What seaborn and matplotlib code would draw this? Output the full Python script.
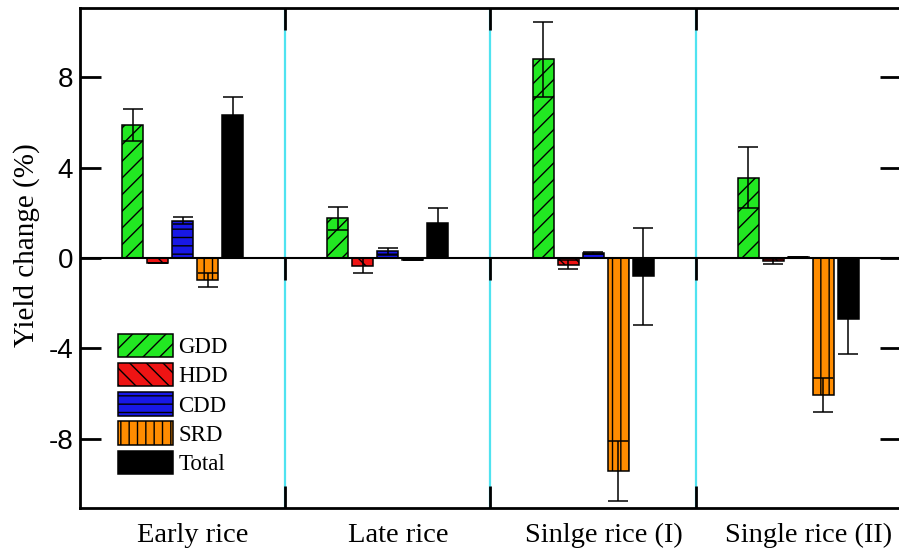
import matplotlib
matplotlib.use("Agg")
import matplotlib.pyplot as plt
from matplotlib.patches import Patch
import seaborn as sns
import pandas as pd
import numpy as np

groups = ["Early rice", "Late rice", "Sinlge rice (I)", "Single rice (II)"]
factors = ["GDD", "HDD", "CDD", "SRD", "Total"]

gdd = [5.88, 1.75, 8.80, 3.55]
hdd = [-0.20, -0.35, -0.30, -0.15]
cdd = [1.65, 0.30, 0.23, 0.05]
srd = [-0.99, -0.10, -9.42, -6.07]
total = [6.35, 1.57, -0.80, -2.72]

gdd_err = [0.72, 0.52, 1.65, 1.35]
hdd_err = [0.00, 0.33, 0.20, 0.12]
cdd_err = [0.15, 0.15, 0.05, 0.00]
srd_err = [0.31, 0.00, 1.32, 0.77]
total_err = [0.80, 0.66, 2.15, 1.55]

yticks = [-8, -4, 0, 4, 8]
ytick_labels = ["-8", "-4", "0", "4", "8"]

colors = ["#22E822", "#EE1414", "#1818E6", "#FF8C00", "#000000"]
hatches = ["//", "\\\\", "--", "||", ""]

values = [gdd, hdd, cdd, srd, total]
errors = [gdd_err, hdd_err, cdd_err, srd_err, total_err]

rows = []
for f, vals, errs in zip(factors, values, errors):
    for g, v, e in zip(groups, vals, errs):
        rows.append({"group": g, "factor": f, "value": v, "err": e})
df = pd.DataFrame(rows)

sns.set_style("ticks")
plt.rcParams["axes.unicode_minus"] = False
plt.rcParams["hatch.linewidth"] = 1.0
plt.rcParams["hatch.color"] = "black"
plt.rcParams["axes.edgecolor"] = "black"
plt.rcParams["xtick.color"] = "black"
plt.rcParams["ytick.color"] = "black"
plt.rcParams["text.color"] = "black"
plt.rcParams["axes.labelcolor"] = "black"
plt.rcParams["axes.axisbelow"] = False

fig = plt.figure(figsize=(8.99, 5.49), dpi=100)
ax = fig.add_axes([80 / 899, 1 - 508 / 549, 821 / 899, 500 / 549])

sns.barplot(data=df, x="group", y="value", hue="factor", order=groups,
            hue_order=factors, palette=colors, saturation=1, width=0.61,
            gap=0.16, errorbar=None, edgecolor="black", linewidth=1.1, ax=ax,
            legend=False, zorder=3)

for cont, hatch, errs in zip(ax.containers, hatches, errors):
    xs, ys = [], []
    for bar in cont:
        bar.set_hatch(hatch)
        xs.append(bar.get_x() + bar.get_width() / 2)
        ys.append(bar.get_y() + bar.get_height())
    ax.errorbar(xs, ys, yerr=errs, fmt="none", ecolor="black", elinewidth=1.1,
                capsize=7.5, capthick=1.1, zorder=4)

ax.axhline(0, color="black", lw=1.5, zorder=5)

seps = [0.5, 1.5, 2.5]
for s in seps:
    ax.axvline(s, color="#4FE3F0", lw=1.6, zorder=1)
ax.vlines(seps, -0.97, 0, color="black", lw=2.0, zorder=5)

ax.set_xlim(-0.5, 3.5)
ax.set_ylim(-11.07, 11.07)
ax.set_yticks(yticks)
ax.set_yticklabels(ytick_labels, fontfamily="Liberation Sans", fontsize=20)
ax.set_xticks(seps, minor=True)
label_shift = 0.05
ax.set_xticks(np.arange(len(groups)) + label_shift)
ax.set_xticklabels(groups, fontfamily="Liberation Serif", fontsize=20.5)
ax.tick_params(axis="x", which="major", length=0, pad=11)
ax.tick_params(axis="x", which="minor", direction="in", length=16, width=2,
               top=True, bottom=True, color="black")
ax.tick_params(axis="y", which="major", direction="in", length=15, width=2,
               left=True, right=True, pad=5)
for sp in ax.spines.values():
    sp.set_linewidth(2)
    sp.set_visible(True)
    sp.set_color("black")

ax.set_xlabel("")
ax.set_ylabel("Yield change (%)", fontfamily="Liberation Serif", fontsize=21,
              labelpad=4)
ax.yaxis.set_label_coords(-0.049, 0.526)

handles = [Patch(facecolor=c, edgecolor="black", hatch=h, linewidth=1.1)
           for c, h in zip(colors, hatches)]
ax.legend(handles, factors, loc="upper left", bbox_to_anchor=(0.046, 0.348),
          frameon=False, prop={"family": "Liberation Serif", "size": 16.5},
          handlelength=2.4, handleheight=1.18, labelspacing=0.21,
          handletextpad=0.25, borderpad=0, borderaxespad=0)

fig.savefig("out.png", dpi=100)
